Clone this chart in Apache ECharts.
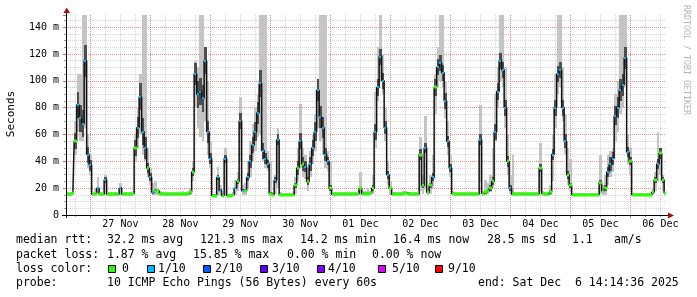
<!DOCTYPE html>
<html><head><meta charset="utf-8">
<script src="https://cdn.jsdelivr.net/npm/echarts@6/dist/echarts.min.js"></script>
<style>html,body{margin:0;padding:0;background:#fff}#c{width:697px;height:297px}</style>
</head><body><div id="c"></div>
<script>
// x values are hours after 26 Nov 2025 00:00
const firstSampleHour = 15;
const axisStartHour = 14.24;
const axisEndHour = 254.24;

// hourly median rtt (ms)
const medianMs = [
  15.5,15.5,16.5,55,82,72,68,115,45,
  37,15.5,16,20,15.5,15.5,26,15.5,15.5,15.5,15.5,15.5, 20,15.5,15.5,15.5,15.5,16,50,65,88,62,50,35,
  28,17,18,18,16,15.5,15.5,15.5,15.5,15.5,15.5,15.5, 15.5,15.5,15.5,16,17,32,105,90,92,87,115,62,
  42,14.5,14.5,28,18,14.5,42,14.5,14.5,15,20,25, 70,18,18,28,40,52,62,76,98,48,42,38,
  16,15,26,56,15,15,15,15,15,15,22,35, 55,38,36,25,38,50,62,93,73,65,45,40,
  20,15.5,15.5,15.5,15.5,15.5,15.5,15.5,15.5,15.5,15.5,16, 20,16,16,16,16.5,20,62,95,118,100,65,30,
  20,15.5,15.5,15.5,15.5,16,16.5,16,15.5,15.5,15.5,15.5, 45,22,50,17,22,28,95,110,113,106,85,55,
  35,16,15.5,15.5,15.5,15.5,15.5,15.5,15.5,15.5,15.5,15.5, 56,16,17,18,20,25,62,92,115,108,80,40,
  20,15.5,15.5,15.5,15.5,15.5,15.5,15.5,15.5,15.5,15.5,15.5, 35,16,15.5,15.5,17,45,80,105,108,80,55,30,
  22,15,15,15,15,15,15,15,15,15,15,15, 24,18,20,32,38,42,74,80,93,97,117,47,
  40,15,15,15,15,15,15,15,15,17,26,38,46,26,16.4
];
// lost pings out of 10
const lossTenths = [
  0,0,0,0,1,1,1,1,1,
  1,0,0,1,0,0,1,0,0,0,0,0, 1,0,0,0,0,0,0,1,1,1,1,0,
  1,1,0,0,0,0,0,0,0,0,0,0, 0,0,0,0,0,0,1,1,1,1,1,1,
  1,0,0,1,1,0,1,0,0,0,1,0, 1,1,0,1,1,1,1,1,1,1,1,1,
  0,0,1,1,0,0,0,0,0,0,0,0, 1,0,1,0,1,1,1,1,1,1,1,1,
  0,0,0,0,0,0,0,0,0,0,0,0, 0,0,0,0,0,0,1,1,1,1,1,1,
  0,0,0,0,0,0,0,0,0,0,0,0, 0,0,1,0,0,1,0,1,1,1,1,1,
  1,0,0,0,0,0,0,0,0,0,0,0, 1,0,0,0,0,0,1,1,1,1,1,0,
  1,0,0,0,0,0,0,0,0,0,0,0, 0,0,0,0,0,1,1,1,1,1,1,0,
  0,0,0,0,0,0,0,0,0,0,0,0, 0,0,0,1,1,1,1,1,1,1,1,1,
  0,0,0,0,0,0,0,0,0,0,0,1,0,0,0
];
// highest ping in the hour (ms)
const smokeHiMs = [
  17,17,18,70,105,105,150,150,60,
  45,17,20,28,17,17,30,17,17,17,17,17, 24,17,17,17,17,18,60,80,105,150,150,50,
  35,24,25,20,18,17,17,17,17,17,17,17, 17,18,17,18,20,40,115,110,150,150,125,100,
  55,16,16,36,22,16,50,16,16,17,26,32, 88,22,24,40,55,68,80,90,150,150,150,48,
  40,17,30,65,17,16.5,16.5,16.5,16.5,17,28,50, 83,50,45,35,48,60,75,100,150,150,150,48,
  40,17,17,17,17,17,17,17,17,17,17,18, 32,18,18,20,18,30,92,125,150,120,80,40,
  25,17,17,17,17,18,18,17,17,17,17,17, 58,30,74,20,30,45,105,125,150,150,100,70,
  45,18,17,17,17,17,17,17,17,17,17,17, 82,18,26,24,30,50,90,110,150,150,110,60,
  30,45,17,17,17,17,17,17,17,17,17,17, 54,18,17,17,22,60,105,150,150,110,75,50,
  42,16.5,16.5,16.5,16.5,16.5,16.5,16.5,16.5,16.5,16.5,16.5, 45,22,30,45,48,50,90,100,150,150,150,60,
  50,16.5,16.5,16.5,16.5,16.5,16.5,16.5,16.5,19,32,62,50,30,17.5
];
// lowest ping in the hour (ms)
const smokeLoMs = [
  14.5,14.5,15,45,62,55,55,65,35,
  30,14.5,15,16,14.5,14.5,16,14.5,14.5,14.5,14.5,14.5, 15,14.5,14.5,14.5,14.5,15,40,50,60,45,40,28,
  22,15,15,15,15,14.5,14.5,14.5,14.5,14.5,14.5,14.5, 14.5,14.5,14.5,15,15,25,80,65,58,55,70,45,
  35,13.5,13.5,15,15,13.5,15,13.5,13.5,14,15,18, 40,15,15,20,28,40,48,58,60,40,35,33,
  14,14,16,20,14,14,14,14,14,14,16,25, 35,28,27,18,28,38,48,65,55,45,35,33,
  15,14.5,14.5,14.5,14.5,14.5,14.5,14.5,14.5,14.5,14.5,15, 15,15,15,15,15,16,50,85,100,90,55,22,
  15,14.5,14.5,14.5,14.5,15,15,15,14.5,14.5,14.5,14.5, 18,16,20,15,16,20,75,95,100,95,72,45,
  28,15,14.5,14.5,14.5,14.5,14.5,14.5,14.5,14.5,14.5,14.5, 25,15,15,16,17,20,55,80,100,95,65,30,
  16,14.5,14.5,14.5,14.5,14.5,14.5,14.5,14.5,14.5,14.5,14.5, 18,15,14.5,14.5,15,25,65,90,95,70,45,22,
  18,14,14,14,14,14,14,14,14,14,14,14, 16,15,15,22,28,32,55,62,75,80,95,38,
  30,14,14,14,14,14,14,14,14,15,18,25,30,18,15
];
// half-width of the dense (dark) smoke around the median (ms)
const smokeCoreMs = [
  0,0,0,6,10,10,10,12,6,
  4,0,0,1,0,0,2,0,0,0,0,0, 1,0,0,0,0,0,6,8,10,10,8,4,
  3,1,1,0,0,0,0,0,0,0,0,0, 0,0,0,0,0,3,8,10,10,10,10,8,
  4,0,0,2,1,0,3,0,0,0,1,2, 6,1,1,3,5,6,7,8,10,6,4,3,
  1,0,2,4,0,0,0,0,0,0,2,5, 6,5,4,3,5,6,7,8,8,8,5,3,
  2,0,0,0,0,0,0,0,0,0,0,0, 1,0,0,0,0,2,6,6,6,6,5,3,
  1,0,0,0,0,0,0,0,0,0,0,0, 4,2,4,0,2,3,6,6,6,6,6,4,
  3,0,0,0,0,0,0,0,0,0,0,0, 4,0,1,1,2,3,6,6,6,6,6,4,
  2,0,0,0,0,0,0,0,0,0,0,0, 3,0,0,0,1,4,6,6,6,6,5,3,
  2,0,0,0,0,0,0,0,0,0,0,0, 2,1,2,4,5,5,7,8,8,8,8,4,
  3,0,0,0,0,0,0,0,0,1,2,4,4,2,0
];

const dayLabels = ['27 Nov','28 Nov','29 Nov','30 Nov','01 Dec','02 Dec','03 Dec','04 Dec','05 Dec','06 Dec'];
const firstLabelHour = 36; // noon 27 Nov
const yMaxMs = 149;

const lossLevels = [0,1,2,3,4,5,9];
const lossLegendLabels = ['0','1/10','2/10','3/10','4/10','5/10','9/10'];
const lossColors = ['#26ff00','#00b8ff','#0059ff','#5e00ff','#7e00ff','#dd00ff','#ff0000'];

const statLines = [
  [['median rtt:',16],['32.2 ms avg',107],['121.3 ms max',200],['14.2 ms min',300],['16.4 ms now',393],['28.5 ms sd',487],['1.1',572],['am/s',614]],
  [['packet loss:',16],['1.87 % avg',107],['15.85 % max',193],['0.00 % min',287],['0.00 % now',372]],
  [['loss color:',16]],
  [['probe:',16],['10 ICMP Echo Pings (56 Bytes) every 60s',107],['end: Sat Dec  6 14:14:36 2025',478]]
];
const statLineY = [240, 255, 269, 283];
const lossBoxX = [108,147,203,260,317,378,435];
const lossLabelX = [122,158,215,272,328,392,448];

// ---- build ----
const hours = medianMs.map((_, i) => firstSampleHour + i);
const outerSmoke = hours.map((h, i) => [h, smokeLoMs[i], smokeHiMs[i]]);
const coreSmoke = hours.map((h, i) => [h, medianMs[i] - smokeCoreMs[i], medianMs[i] + smokeCoreMs[i]]);
const medianLine = hours.map((h, i) => [h, medianMs[i]]);
const medianMarks = hours.map((h, i) => [h, medianMs[i], lossTenths[i]]);

const sixHourTicks = [];
for (let h = 18; h <= 252; h += 6) sixHourTicks.push(h);
const dayTicks = [];
for (let h = 24; h <= 240; h += 24) dayTicks.push(h);
const labelHours = dayLabels.map((_, i) => firstLabelHour + 24 * i);

function clipToGrid(r, cs) {
  return echarts.graphic.clipRectByRect(r, { x: cs.x, y: cs.y, width: cs.width, height: cs.height });
}
function bandRenderer(color) {
  return function (params, api) {
    const h = api.value(0);
    const pTop = api.coord([h - 0.5, api.value(2)]);
    const pBot = api.coord([h + 0.5, api.value(1)]);
    const x1 = Math.round(pTop[0]), x2 = Math.round(pBot[0]);
    const y1 = Math.round(pTop[1]), y2 = Math.round(pBot[1]);
    if (y2 - y1 < 1) return null;
    const r = clipToGrid({ x: x1, y: y1, width: x2 - x1, height: y2 - y1 }, params.coordSys);
    return r && { type: 'rect', shape: r, style: { fill: color }, silent: true };
  };
}
function markRenderer(params, api) {
  const h = api.value(0);
  const loss = api.value(2);
  const li = Math.max(0, lossLevels.indexOf(loss));
  const pc = api.coord([h, api.value(1)]);
  let r;
  if (loss === 0) {
    const pl = api.coord([h - 0.5, api.value(1)]);
    const pr = api.coord([h + 0.5, api.value(1)]);
    const x1 = Math.round(pl[0]), x2 = Math.round(pr[0]);
    r = { x: x1, y: Math.round(pc[1]) - 1.5, width: x2 - x1, height: 3 };
  } else {
    r = { x: Math.round(pc[0]) - 1, y: Math.round(pc[1]) - 1, width: 2, height: 2 };
  }
  r = clipToGrid(r, params.coordSys);
  return r && { type: 'rect', shape: r, style: { fill: lossColors[li] }, silent: true };
}

const MONO = '"DejaVu Sans Mono", monospace';
const minorGrid = { color: 'rgba(150,150,150,0.4)', type: [1, 1], width: 1 };
const majorGrid = { color: 'rgba(240,70,70,0.5)', type: [1, 1], width: 1 };

const graphics = [];
statLines.forEach((segs, li) => {
  segs.forEach(([t, x]) => {
    graphics.push({ type: 'text', x: x, y: statLineY[li], silent: true,
      style: { text: t, font: '11.5px ' + MONO, fill: '#000', textVerticalAlign: 'middle', verticalAlign: 'middle' } });
  });
});
lossLegendLabels.forEach((lab, i) => {
  graphics.push({ type: 'rect', silent: true, shape: { x: lossBoxX[i] + 0.5, y: 265.5, width: 7, height: 7 },
    style: { fill: lossColors[i], stroke: '#000', lineWidth: 1 } });
  graphics.push({ type: 'text', x: lossLabelX[i], y: statLineY[2], silent: true,
    style: { text: lab, font: '11.5px ' + MONO, fill: '#000', textVerticalAlign: 'middle', verticalAlign: 'middle' } });
});
graphics.push({ type: 'text', x: 11, y: 114, rotation: Math.PI / 2, silent: true,
  style: { text: 'Seconds', font: '11px ' + MONO, fill: '#000', textAlign: 'center', align: 'center', textVerticalAlign: 'middle', verticalAlign: 'middle' } });
graphics.push({ type: 'text', x: 686.5, y: 60, rotation: -Math.PI / 2, silent: true,
  style: { text: 'RRDTOOL / TOBI OETIKER', font: '8.3px ' + MONO, fill: '#b4b4b4', textAlign: 'center', align: 'center', textVerticalAlign: 'middle', verticalAlign: 'middle' } });
// axis extensions and arrows
graphics.push({ type: 'line', silent: true, z: 100, shape: { x1: 62, y1: 215.5, x2: 669, y2: 215.5 }, style: { stroke: '#000', lineWidth: 1 } });
graphics.push({ type: 'line', silent: true, z: 100, shape: { x1: 66.5, y1: 218, x2: 66.5, y2: 12 }, style: { stroke: '#000', lineWidth: 1 } });
graphics.push({ type: 'polygon', silent: true, z: 100, shape: { points: [[63.5, 13], [70, 13], [66.75, 7.5]] }, style: { fill: '#a01010' } });
graphics.push({ type: 'polygon', silent: true, z: 100, shape: { points: [[668, 212.5], [668, 218.5], [674, 215.5]] }, style: { fill: '#a01010' } });

const chart = echarts.init(document.getElementById('c'), null, { renderer: 'canvas' });
chart.setOption({
  animation: false,
  backgroundColor: '#fff',
  grid: { left: 66, right: 31, top: 15, bottom: 82, containLabel: false, outerBoundsMode: 'none' },
  xAxis: [
    { type: 'value', min: axisStartHour, max: axisEndHour,
      axisLine: { show: true, onZero: false, lineStyle: { color: '#000' } },
      axisTick: { show: true, customValues: sixHourTicks, length: 2, lineStyle: { color: '#999' } },
      axisLabel: { show: false },
      splitLine: { show: true, lineStyle: minorGrid } },
    { type: 'value', min: axisStartHour, max: axisEndHour, position: 'bottom',
      axisLine: { show: false, onZero: false },
      axisTick: { show: true, customValues: dayTicks, length: 3, lineStyle: { color: '#e06060' } },
      axisLabel: { show: true, customValues: labelHours, margin: 4, fontFamily: MONO, fontSize: 10, color: '#000',
        formatter: v => { const i = Math.round((v - firstLabelHour) / 24); return dayLabels[i] || ''; } },
      splitLine: { show: true, lineStyle: majorGrid } }
  ],
  yAxis: [
    { type: 'value', min: 0, max: yMaxMs, interval: 5,
      axisLine: { show: true, onZero: false, lineStyle: { color: '#000' } },
      axisTick: { show: true, length: 2, lineStyle: { color: '#999' } },
      axisLabel: { show: false },
      splitLine: { show: true, showMaxLine: false, lineStyle: minorGrid } },
    { type: 'value', min: 0, max: yMaxMs, interval: 20, position: 'left', offset: 0,
      axisLine: { show: false },
      axisTick: { show: true, length: 3, lineStyle: { color: '#e06060' } },
      axisLabel: { margin: 7, fontFamily: MONO, fontSize: 10, color: '#000',
        formatter: v => (v % 20 === 0 ? (v === 0 ? '0' : v + ' m') : '') },
      splitLine: { show: true, showMaxLine: false, lineStyle: majorGrid } }
  ],
  series: [
    { type: 'custom', name: 'smoke', data: outerSmoke, renderItem: bandRenderer('#c4c4c4'),
      encode: { x: 0, y: [1, 2] }, silent: true, z: 2 },
    { type: 'custom', name: 'smokeCore', data: coreSmoke, renderItem: bandRenderer('#4e4e4e'),
      encode: { x: 0, y: [1, 2] }, silent: true, z: 3 },
    { type: 'line', name: 'median', data: medianLine, step: 'middle', showSymbol: false, silent: true, z: 4,
      lineStyle: { width: 1.5, color: '#111' } },
    { type: 'custom', name: 'loss', data: medianMarks, renderItem: markRenderer,
      encode: { x: 0, y: 1 }, silent: true, z: 5 }
  ],
  graphic: { elements: graphics }
});
</script></body></html>
